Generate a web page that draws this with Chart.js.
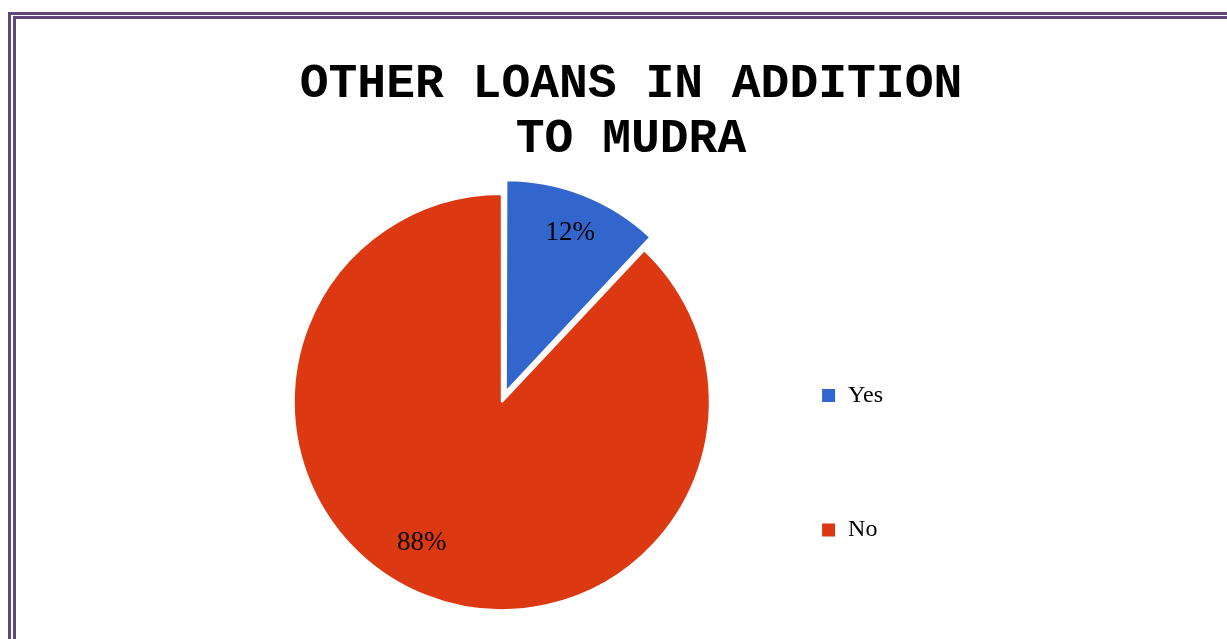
<!DOCTYPE html>
<html>
<head>
<meta charset="utf-8">
<script src="https://cdn.jsdelivr.net/npm/chart.js@4.4.1/dist/chart.umd.min.js"></script>
<style>
  html, body { margin: 0; padding: 0; background: #fff; overflow: hidden; }
  .frame { position: absolute; border-top: 3px solid #5f497a; border-left: 3px solid #5f497a; }
  #outer { left: 8px; top: 12px; width: 1300px; height: 700px; }
  #inner { left: 13px; top: 16px; width: 1300px; height: 700px; }
  #wrap { position: absolute; left: 0; top: 0; width: 1227px; height: 639px; }
</style>
</head>
<body>
<div class="frame" id="outer"></div>
<div class="frame" id="inner"></div>
<div id="wrap"><canvas id="chart"></canvas></div>
<script>
// chart data
var titleLines = ["OTHER LOANS IN ADDITION", "TO MUDRA"];
var categories = ["Yes", "No"];
var percentages = [12, 88];
var sliceColors = ["#3366cc", "#dc3912"];

// title is centred over the whole frame, not over the plot area
var frameTitle = {
  id: "frameTitle",
  afterDraw: function(chart, args, opts) {
    var ctx = chart.ctx;
    ctx.save();
    ctx.font = opts.font;
    ctx.fillStyle = opts.color;
    ctx.textAlign = "center";
    ctx.textBaseline = "alphabetic";
    titleLines.forEach(function(line, i) {
      ctx.fillText(line, opts.x, opts.y + i * opts.lineHeight);
    });
    ctx.restore();
  }
};

// percent labels inside slices
var sliceLabels = {
  id: "sliceLabels",
  afterDatasetsDraw: function(chart, args, opts) {
    var ctx = chart.ctx;
    var meta = chart.getDatasetMeta(0);
    ctx.save();
    ctx.font = opts.font;
    ctx.fillStyle = opts.color;
    ctx.textAlign = "center";
    ctx.textBaseline = "middle";
    meta.data.forEach(function(arc, i) {
      var p = arc.getProps(["x", "y", "startAngle", "endAngle", "outerRadius"], true);
      var pos = opts.positions[i];
      var a = (p.startAngle + p.endAngle) / 2 + pos.shift * Math.PI / 180;
      var r = p.outerRadius * pos.r;
      ctx.fillText(percentages[i] + "%", p.x + Math.cos(a) * r, p.y + Math.sin(a) * r);
    });
    ctx.restore();
  }
};

var chart = new Chart(document.getElementById("chart"), {
  type: "pie",
  data: {
    labels: categories,
    datasets: [{
      data: percentages,
      backgroundColor: sliceColors,
      borderColor: "#ffffff",
      borderWidth: 2,
      offset: [44, 0]
    }]
  },
  options: {
    responsive: true,
    maintainAspectRatio: false,
    animation: false,
    radius: 208,
    layout: { padding: { top: 165, bottom: -13.5, left: 293, right: 334 } },
    plugins: {
      tooltip: { enabled: false },
      title: { display: false },
      legend: {
        display: true,
        position: "right",
        align: "end",
        labels: {
          color: "#000",
          boxWidth: 15,
          boxHeight: 15,
          padding: 110.5,
          font: { family: "'Liberation Serif', 'Times New Roman', serif", size: 24 }
        }
      },
      frameTitle: {
        font: "bold 48px 'Liberation Mono', 'Courier New', monospace",
        color: "#000",
        x: 631,
        y: 97,
        lineHeight: 55
      },
      sliceLabels: {
        font: "27px 'Liberation Serif', 'Times New Roman', serif",
        color: "#000",
        positions: [{ r: 0.875, shift: 0.5 }, { r: 0.78, shift: 8 }]
      }
    }
  },
  plugins: [sliceLabels, frameTitle]
});
</script>
</body>
</html>
